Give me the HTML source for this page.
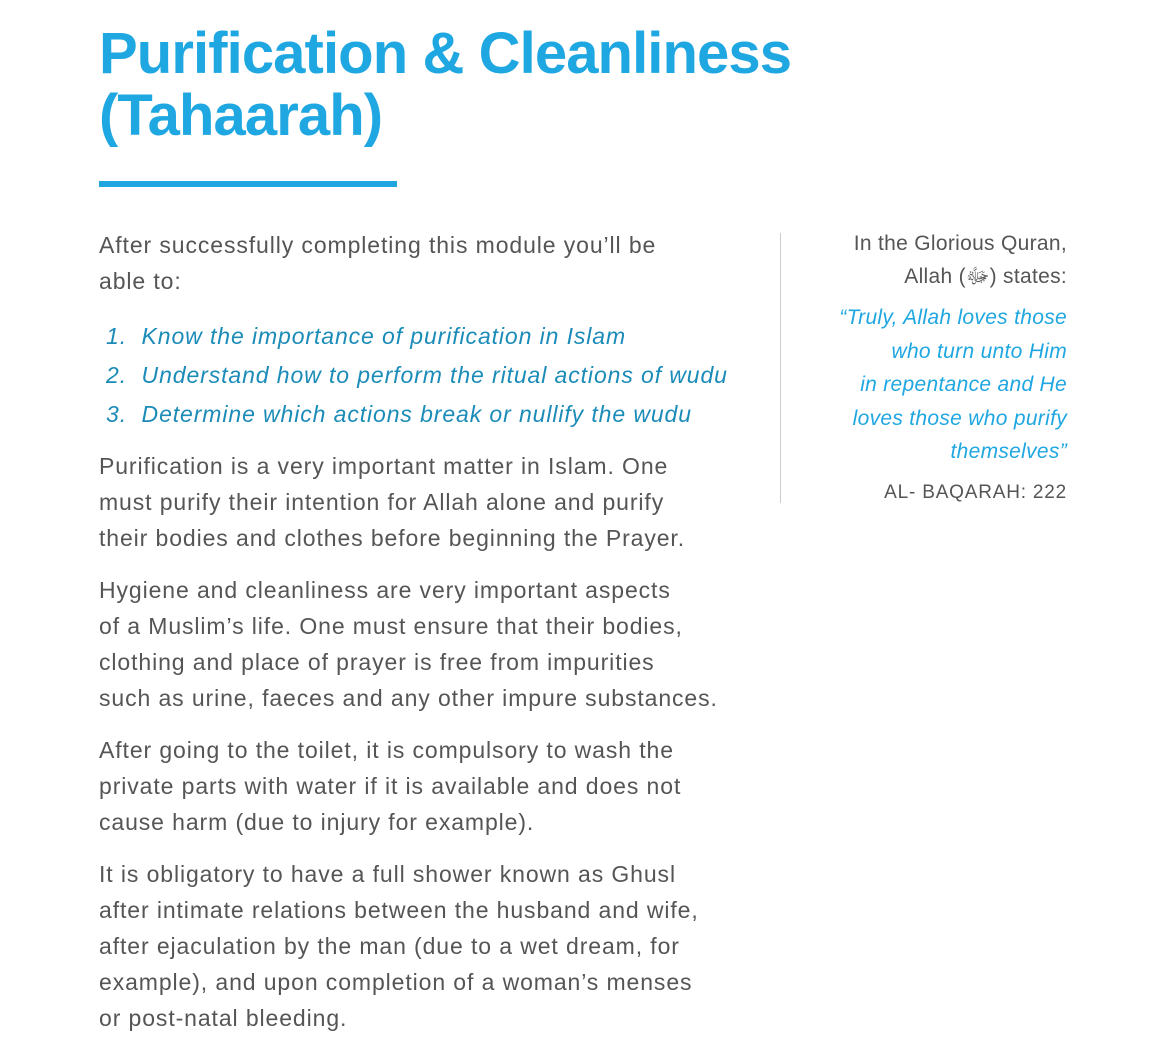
<!DOCTYPE html>
<html><head><meta charset="utf-8"><style>
body{margin:0;width:1166px;height:1061px;background:#fff;position:relative;overflow:hidden;font-family:"Liberation Sans","Noto Sans CJK SC",sans-serif}
.t{position:absolute;left:99px;color:#1fa7e1;font-weight:bold;font-size:58px;line-height:62px;white-space:nowrap;letter-spacing:-0.9px}
.l{position:absolute;left:99px;height:36px;line-height:36px;font-size:23px;letter-spacing:0.9px;color:#555;white-space:nowrap}
.li{position:absolute;left:106px;height:36px;line-height:36px;font-size:23px;letter-spacing:0.9px;color:#1b8bb8;font-style:italic;white-space:nowrap}
.s{position:absolute;right:99px;height:34px;line-height:34px;font-size:21px;letter-spacing:0.3px;color:#555;white-space:nowrap;text-align:right}
.q{color:#1fa7e1;font-style:italic}
</style></head><body>
<div class="t" style="top:23px">Purification &amp; Cleanliness</div>
<div class="t" style="top:85px">(Tahaarah)</div>
<div style="position:absolute;left:99px;top:181px;width:298px;height:6px;background:#1fa7e1"></div>

<div class="l" style="top:227px">After successfully completing this module you’ll be</div>
<div class="l" style="top:263px">able to:</div>
<div class="li" style="top:318px">1.&nbsp; Know the importance of purification in Islam</div>
<div class="li" style="top:357px">2.&nbsp; Understand how to perform the ritual actions of wudu</div>
<div class="li" style="top:396px">3.&nbsp; Determine which actions break or nullify the wudu</div>

<div class="l" style="top:448px">Purification is a very important matter in Islam. One</div>
<div class="l" style="top:484px">must purify their intention for Allah alone and purify</div>
<div class="l" style="top:520px">their bodies and clothes before beginning the Prayer.</div>

<div class="l" style="top:572px">Hygiene and cleanliness are very important aspects</div>
<div class="l" style="top:608px">of a Muslim’s life. One must ensure that their bodies,</div>
<div class="l" style="top:644px">clothing and place of prayer is free from impurities</div>
<div class="l" style="top:680px">such as urine, faeces and any other impure substances.</div>

<div class="l" style="top:732px">After going to the toilet, it is compulsory to wash the</div>
<div class="l" style="top:768px">private parts with water if it is available and does not</div>
<div class="l" style="top:804px">cause harm (due to injury for example).</div>

<div class="l" style="top:856px">It is obligatory to have a full shower known as Ghusl</div>
<div class="l" style="top:892px">after intimate relations between the husband and wife,</div>
<div class="l" style="top:928px">after ejaculation by the man (due to a wet dream, for</div>
<div class="l" style="top:964px">example), and upon completion of a woman’s menses</div>
<div class="l" style="top:1000px">or post-natal bleeding.</div>

<div style="position:absolute;left:780px;top:233px;width:1px;height:270px;background:#ccc"></div>
<div class="s" style="top:227px">In the Glorious Quran,</div>
<div class="s" style="top:260px">Allah (ﷻ) states:</div>
<div class="s q" style="top:301px">“Truly, Allah loves those</div>
<div class="s q" style="top:335px">who turn unto Him</div>
<div class="s q" style="top:368px">in repentance and He</div>
<div class="s q" style="top:402px">loves those who purify</div>
<div class="s q" style="top:435px">themselves”</div>
<div class="s" style="top:476px;font-size:19px;letter-spacing:0.8px">AL- BAQARAH: 222</div>
</body></html>
